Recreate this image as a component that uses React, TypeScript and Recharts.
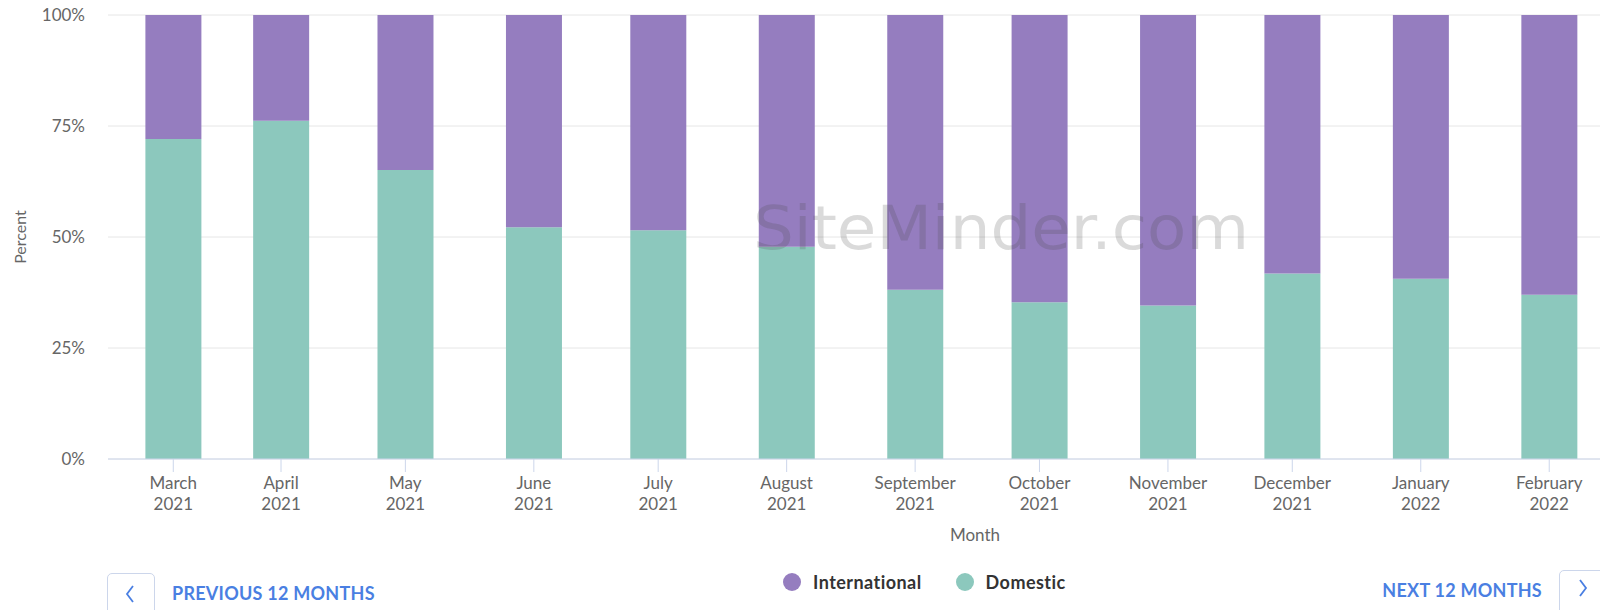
import React from "react";
import {
  BarChart,
  Bar,
  XAxis,
  YAxis,
  CartesianGrid,
  Legend,
} from "recharts";

// month buckets as plotted on the datetime axis (first bucket starts mid-March)
const bucketDates = [
  "2021-03-06",
  "2021-04-01",
  "2021-05-01",
  "2021-06-01",
  "2021-07-01",
  "2021-08-01",
  "2021-09-01",
  "2021-10-01",
  "2021-11-01",
  "2021-12-01",
  "2022-01-01",
  "2022-02-01",
];
const months = [
  "March 2021",
  "April 2021",
  "May 2021",
  "June 2021",
  "July 2021",
  "August 2021",
  "September 2021",
  "October 2021",
  "November 2021",
  "December 2021",
  "January 2022",
  "February 2022",
];
const domestic = [72.1, 76.2, 65.1, 52.2, 51.5, 47.8, 38.1, 35.3, 34.6, 41.8, 40.6, 37.0];
const international = domestic.map((d) => +(100 - d).toFixed(1));
const yTicks = [0, 25, 50, 75, 100];

const PURPLE = "#957dbf";
const TEAL = "#8cc8bd";
const BLUE = "#4a7fe2";

const xValues = bucketDates.map((d) => Date.parse(d + "T00:00:00Z"));
const xDomain = [Date.parse("2021-02-18T06:00:00Z"), Date.parse("2022-02-13T06:00:00Z")];

const data = months.map((m, i) => ({
  t: xValues[i],
  month: m,
  domestic: domestic[i],
  international: international[i],
}));

const MonthTick = (props: any) => {
  const { x, y, payload } = props;
  const idx = xValues.indexOf(payload.value);
  const [name, year] = String(months[idx] ?? "").split(" ");
  return (
    <text
      x={x}
      y={y}
      textAnchor="middle"
      fill="#666666"
      fontSize={17}
      fontFamily="Lato"
    >
      <tspan x={x} dy={15}>
        {name}
      </tspan>
      <tspan x={x} dy={21}>
        {year}
      </tspan>
    </text>
  );
};

const LegendContent = (props: any) => {
  const items = [...(props.payload || [])].reverse();
  return (
    <div style={{ display: "flex", alignItems: "center", fontFamily: "Lato" }}>
      {items.map((it: any) => (
        <div
          key={it.value}
          style={{ display: "flex", alignItems: "center", marginRight: 34 }}
        >
          <span
            style={{
              width: 18,
              height: 18,
              borderRadius: "50%",
              background: it.color,
              display: "inline-block",
              marginRight: 12,
            }}
          />
          <span
            style={{
              fontSize: 18,
              fontWeight: 700,
              color: "#333333",
              letterSpacing: 0.45,
              lineHeight: "22px",
            }}
          >
            {it.value}
          </span>
        </div>
      ))}
    </div>
  );
};

const btnText: React.CSSProperties = {
  position: "absolute",
  fontSize: 18,
  fontWeight: 700,
  color: BLUE,
  lineHeight: "22px",
  letterSpacing: 0.25,
  whiteSpace: "nowrap",
};

const btnBox: React.CSSProperties = {
  position: "absolute",
  width: 48,
  height: 46,
  border: "1px solid #ccd6eb",
  borderRadius: 5,
  boxSizing: "border-box",
};

export default function App() {
  return (
    <div
      style={{
        position: "absolute",
        left: 0,
        top: 0,
        width: 1600,
        height: 610,
        overflow: "hidden",
        background: "#fff",
        fontFamily: "Lato",
      }}
    >
      <BarChart
        width={1600}
        height={610}
        data={data}
        margin={{ top: 15, right: 0, left: 0, bottom: 60 }}
      >
        <CartesianGrid vertical={false} stroke="#e6e6e6" />
        <XAxis
          dataKey="t"
          type="number"
          domain={xDomain}
          allowDataOverflow
          ticks={xValues}
          interval={0}
          height={91}
          axisLine={{ stroke: "#ccd6eb" }}
          tickLine={{ stroke: "#ccd6eb" }}
          tickSize={13}
          tickMargin={2}
          tick={<MonthTick />}
          label={(p: any) => {
            const vb = p.viewBox;
            return (
              <text
                x={vb.x + 867}
                y={vb.y + 82}
                textAnchor="middle"
                fill="#666666"
                fontSize={17}
                fontFamily="Lato"
              >
                Month
              </text>
            );
          }}
        />
        <YAxis
          width={108}
          domain={[0, 100]}
          ticks={yTicks}
          axisLine={false}
          tickLine={false}
          tickMargin={17}
          tickFormatter={(v: number) => `${v}%`}
          tick={{ fill: "#666666", fontSize: 17, fontFamily: "Lato" }}
          label={(p: any) => {
            const vb = p.viewBox;
            const cx = vb.x + 19;
            const cy = vb.y + vb.height / 2;
            return (
              <text
                x={cx}
                y={cy}
                textAnchor="middle"
                dominantBaseline="central"
                transform={`rotate(-90 ${cx} ${cy})`}
                fill="#666666"
                fontSize={16}
                fontFamily="Lato"
              >
                Percent
              </text>
            );
          }}
        />
        <Legend
          layout="horizontal"
          verticalAlign="middle"
          align="center"
          wrapperStyle={{ top: 571, left: 783, width: 400, height: 22 }}
          content={<LegendContent />}
        />
        <Bar
          dataKey="domestic"
          name="Domestic"
          stackId="a"
          fill={TEAL}
          barSize={56}
          isAnimationActive={false}
        />
        <Bar
          dataKey="international"
          name="International"
          stackId="a"
          fill={PURPLE}
          barSize={56}
          isAnimationActive={false}
        />
      </BarChart>

      <svg
        width={1600}
        height={610}
        style={{ position: "absolute", left: 0, top: 0, pointerEvents: "none" }}
      >
        <text
          x={1001}
          y={249}
          textAnchor="middle"
          fontSize={60}
          fontFamily="DejaVu Sans"
          fill="rgba(70,70,70,0.2)"
          textLength={496}
          lengthAdjust="spacingAndGlyphs"
        >
          SiteMinder.com
        </text>
      </svg>

      <div style={{ ...btnBox, left: 107, top: 573 }}>
        <svg width={46} height={44} style={{ position: "absolute", left: 0, top: 0 }}>
          <polyline
            points="25,12 19,20 25,28"
            fill="none"
            stroke={BLUE}
            strokeWidth={1.8}
          />
        </svg>
      </div>
      <div style={{ ...btnText, left: 172, top: 582 }}>PREVIOUS 12 MONTHS</div>

      <div style={{ ...btnText, right: 58, top: 579 }}>NEXT 12 MONTHS</div>
      <div style={{ ...btnBox, left: 1559, top: 570 }}>
        <svg width={46} height={44} style={{ position: "absolute", left: 0, top: 0 }}>
          <polyline
            points="20,9 26,17 20,25"
            fill="none"
            stroke={BLUE}
            strokeWidth={1.8}
          />
        </svg>
      </div>
    </div>
  );
}
